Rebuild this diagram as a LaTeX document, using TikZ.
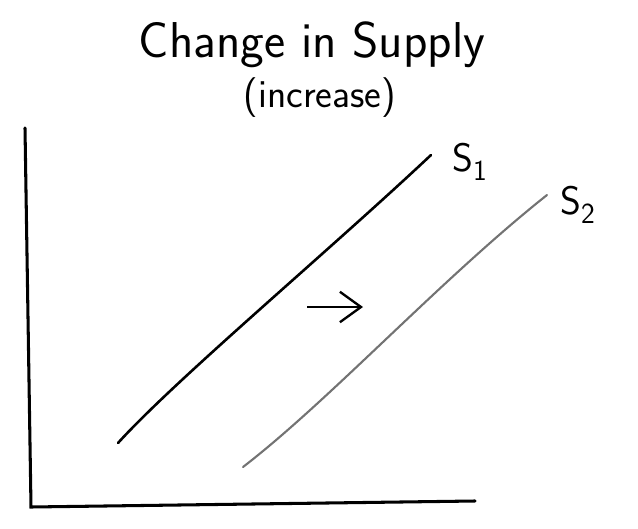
\documentclass[tikz,border=0pt]{standalone}
\usepackage{tikz}
\usetikzlibrary{arrows.meta, positioning}

\begin{document}
\begin{tikzpicture}[x=0.03cm, y=-0.03cm, font=\sffamily\fontsize{43}{50}\selectfont,
  axis/.style={line width=2.6pt, line cap=round},
  supply/.style={line width=2.2pt, line cap=round},
  lbl/.style={font=\sffamily\fontsize{34}{40}\selectfont, anchor=west, inner sep=0pt}]
\useasboundingbox (0,0) rectangle (638,529);
% axes
\coordinate (ytop) at (25,128);
\coordinate (origin) at (31,507);
\coordinate (xend) at (475,501);
\draw[axis] (ytop) -- (origin) -- (xend);
% title
\node (title) at (312,45) {Change in Supply};
\node[font=\sffamily\fontsize{34}{40}\selectfont] (sub) at (320,98) {(increase)};
% supply curves
\coordinate (s1a) at (118,443);
\coordinate (s1b) at (431,155);
\draw[supply] (s1a) .. controls (175,380) and (330,250) .. (s1b);
\node[lbl] (s1) at (452,162) {S$_\mathsf{1}$};
\coordinate (s2a) at (243,467);
\coordinate (s2b) at (547,195);
\draw[supply, line width=1.8pt, black!55] (s2a) .. controls (330,400) and (440,280) .. (s2b);
\node[lbl] (s2) at (560,205) {S$_\mathsf{2}$};
% shift
\coordinate (ra) at (307,307);
\coordinate (rb) at (363,307);
\draw[-{Straight Barb[length=18pt, width=26pt]}, line width=2pt] (ra) -- (rb);
\end{tikzpicture}
\end{document}
